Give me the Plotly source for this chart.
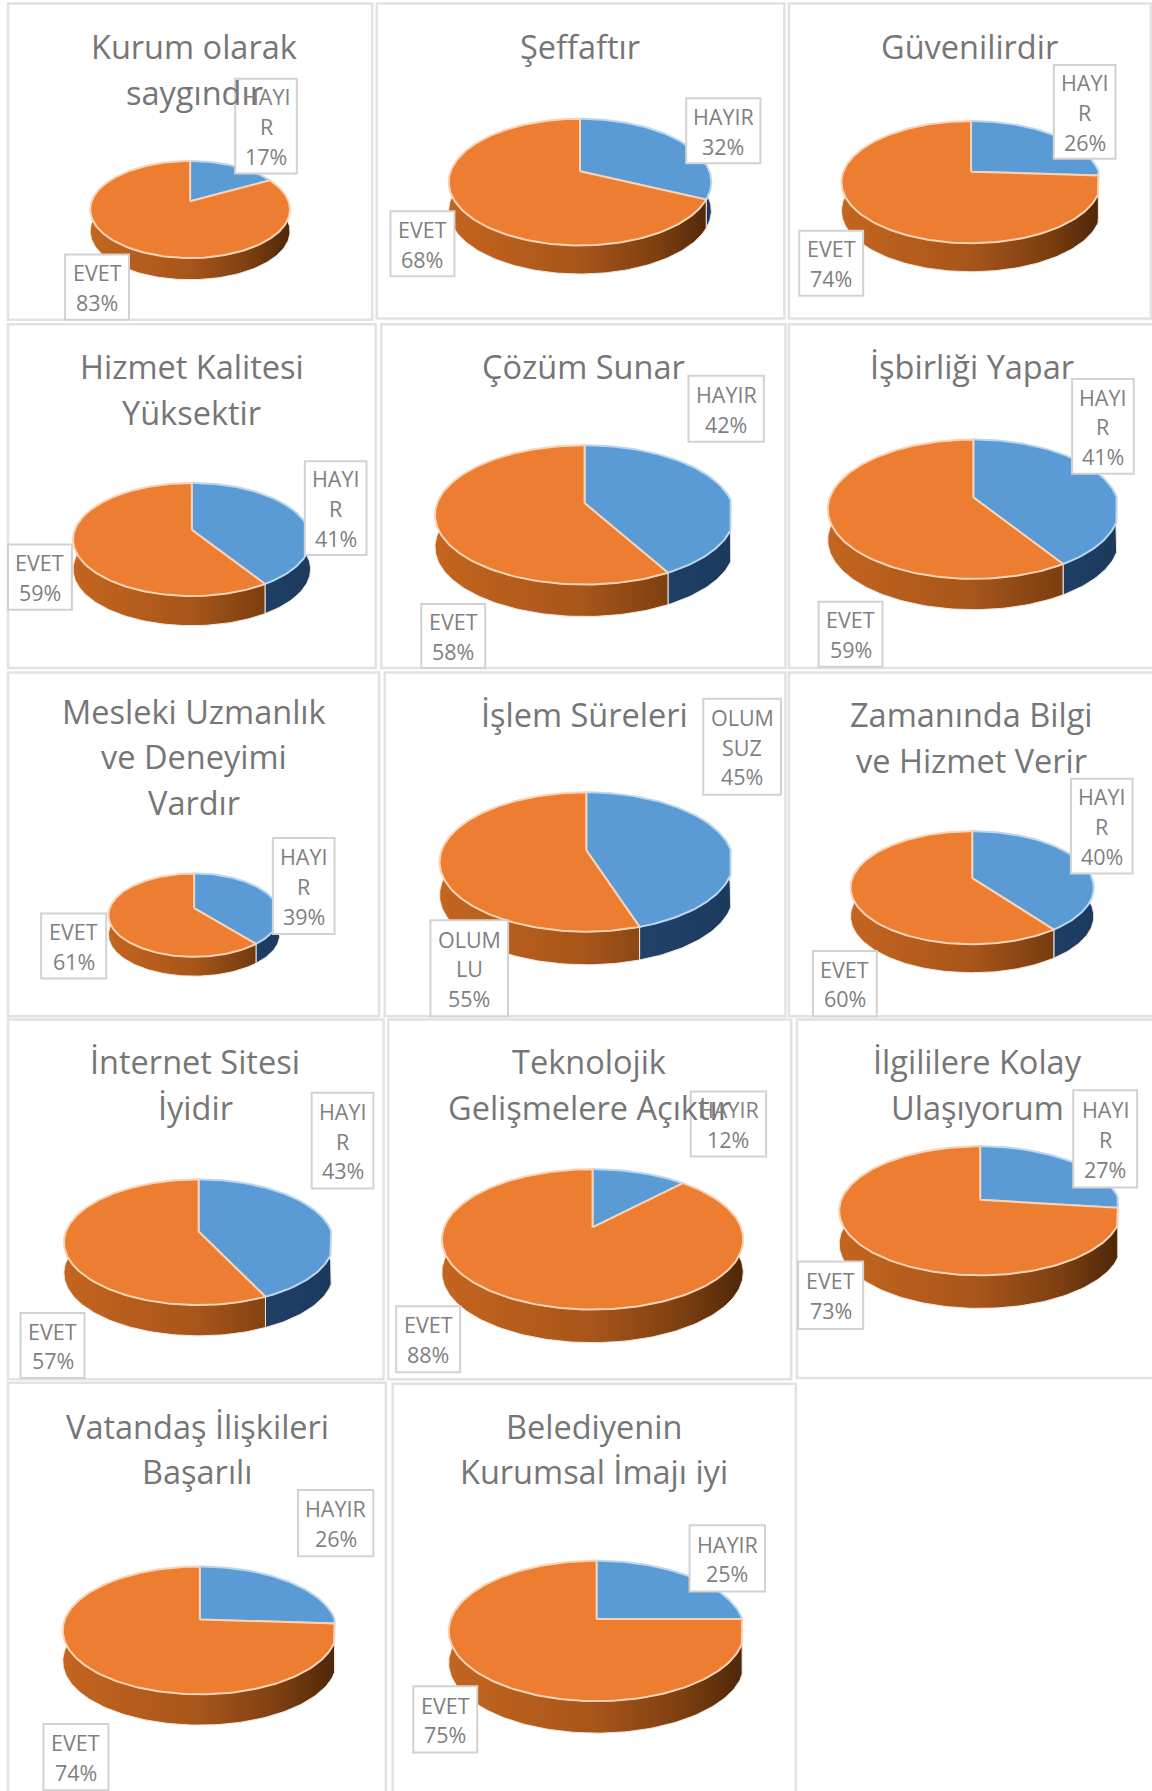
import numpy as np
import plotly.graph_objects as go

# ---------- chart content ----------
titles = [
    ["Kurum olarak", "saygındır"], ["Şeffaftır"], ["Güvenilirdir"],
    ["Hizmet Kalitesi", "Yüksektir"], ["Çözüm Sunar"], ["İşbirliği Yapar"],
    ["Mesleki Uzmanlık", "ve Deneyimi", "Vardır"], ["İşlem Süreleri"], ["Zamanında Bilgi", "ve Hizmet Verir"],
    ["İnternet Sitesi", "İyidir"], ["Teknolojik", "Gelişmelere Açıktır"], ["İlgililere Kolay", "Ulaşıyorum"],
    ["Vatandaş İlişkileri", "Başarılı"], ["Belediyenin", "Kurumsal İmajı iyi"],
]
no_values = [17, 32, 26, 41, 42, 41, 39, 45, 40, 43, 12, 27, 26, 25]
yes_values = [83, 68, 74, 59, 58, 59, 61, 55, 60, 57, 88, 73, 74, 75]
no_labels = [["HAYI", "R"], ["HAYIR"], ["HAYI", "R"], ["HAYI", "R"], ["HAYIR"], ["HAYI", "R"],
             ["HAYI", "R"], ["OLUM", "SUZ"], ["HAYI", "R"], ["HAYI", "R"], ["HAYIR"], ["HAYI", "R"],
             ["HAYIR"], ["HAYIR"]]
yes_labels = [["EVET"]] * 7 + [["OLUM", "LU"]] + [["EVET"]] * 6

# ---------- layout (measured on a 1009 px wide copy, scaled below) ----------
S = 1152 / 1009
panels = [(7,3,326,280),(330,3,687,279),(691,3,1008,279),
          (7,284,329,585),(334,284,688,585),(691,284,1012,585),
          (7,589,332,890),(337,589,688,890),(691,589,1012,890),
          (7,893,336,1208),(340,893,693,1208),(698,893,1012,1207),
          (7,1211,338,1572),(344,1212,697,1572)]
# x-left, x-right, y-top, y-bottom of the top face, side depth, right clip
pies = [(79,254,141,226,19,None),(393,623,104,215,25,None),(737,964,106,213,25,962),
        (64,272,423,522,26,None),(381,643,390,512,28,640),(725,980,385,507,27,978),
        (95,245,765,838,17,None),(385,642,694,816,29,640),(745,958,728,827,25,None),
        (56,292,1033,1143,27,290),(387,651,1024,1147,29,None),(735,982,1004,1117,29,979),
        (55,295,1372,1484,27,293),(393,652,1367,1490,28,650)]
no_boxes = [(206,69,260,152),(601,86,666,143),(923,57,977,139),(267,404,321,486),(603,329,669,387),
            (939,332,993,415),(239,734,293,818),(616,612,684,696),(938,682,992,765),(273,957,327,1041),
            (605,956,671,1013),(940,955,996,1040),(261,1305,327,1363),(604,1336,670,1394)]
yes_boxes = [(57,223,113,280),(342,185,398,242),(700,202,756,259),(7,477,63,534),(369,529,425,585),
             (717,527,773,584),(36,800,93,857),(377,806,445,890),(712,833,768,890),(18,1150,74,1207),
             (347,1144,403,1202),(699,1105,756,1164),(38,1510,95,1568),(362,1477,418,1535)]
title_pos = [(170,41),(508,41),(849,41),(168,321),(511,321),(851,321),(170,623),(512,626),(851,626),
             (171,930),(516,930),(856,930),(173,1249),(520,1249)]

TITLE_SIZE, LABEL_SIZE = 32.5, 21.5
TITLE_STEP, LABEL_STEP = 40 * S, 26 * S
K = 0.17  # perspective of the tilted disc

BLUE, ORANGE = "#5B9BD5", "#ED7D31"
ORANGE_WALL = [[0, "#C4651F"], [0.5, "#A7551A"], [0.8, "#7C3F10"], [1, "#4E2709"]]
BLUE_WALL = [[0, "#2A5180"], [1, "#1C3A5E"]]


def project(theta, pie):
    x0, x1, ytop, ybot, _, _ = [v if v is None else v * S for v in pie]
    rx, ry = (x1 - x0) / 2, (ybot - ytop) / 2
    cx, cy = (x0 + x1) / 2, (ytop + ybot) / 2
    u, v = np.sin(theta), np.cos(theta)
    w = 1 + K * v
    return (cx + rx * np.sqrt(1 - K * K) * u / w,
            cy - K * ry - ry * (1 - K * K) * v / w)


fig = go.Figure()
for i, pie in enumerate(pies):
    clip = pie[5] * S if pie[5] else 1e9
    depth = pie[4] * S
    total = no_values[i] + yes_values[i]
    split = 2 * np.pi * no_values[i] / total
    spans = [(0.0, split, BLUE, BLUE_WALL, "#BBD6EE", "HAYIR", no_values[i]),
             (split, 2 * np.pi, ORANGE, ORANGE_WALL, "#F9D3B5", "EVET", yes_values[i])]
    x0s, x1s = pie[0] * S, pie[1] * S
    # slices meet at the centre of the disc, which perspective moves above the ellipse centre
    apex_x, apex_y = project(np.array([0.0]), pie)[0][0], (pie[2] + pie[3]) / 2 * S - K * (pie[3] - pie[2]) / 2 * S
    for a, b, col, wall, edge, name, val in spans:
        th = np.linspace(a, b, max(int((b - a) * 40), 8))
        ax, ay = project(th, pie)
        ax = np.minimum(ax, clip)
        wx = np.concatenate([ax, ax[::-1], ax[:1]])
        wy = np.concatenate([ay, ay[::-1] + depth, ay[:1]])
        fig.add_trace(go.Scatter(x=wx, y=wy, mode="lines", fill="toself",
                                 line=dict(color="#EFE6DE", width=1),
                                 fillgradient=dict(type="horizontal", colorscale=wall,
                                                   start=x0s, stop=min(x1s, clip)),
                                 hoverinfo="skip", showlegend=False))
    for a, b, col, wall, edge, name, val in spans:
        th = np.linspace(a, b, max(int((b - a) * 40), 8))
        ax, ay = project(th, pie)
        ax = np.minimum(ax, clip)
        fig.add_trace(go.Scatter(x=np.r_[apex_x, ax, apex_x], y=np.r_[apex_y, ay, apex_y],
                                 mode="lines", fill="toself", fillcolor=col,
                                 line=dict(color=edge, width=2), name=name,
                                 text=f"{name} {val}%", hoverinfo="text", showlegend=False))

shapes = []
for x0, y0, x1, y1 in panels:
    shapes.append(dict(type="rect", x0=x0*S, y0=y0*S, x1=x1*S, y1=y1*S, layer="below",
                       line=dict(color="#E2E2E2", width=2.5), fillcolor="white"))
for x0, y0, x1, y1 in no_boxes + yes_boxes:
    shapes.append(dict(type="rect", x0=x0*S, y0=y0*S, x1=x1*S, y1=y1*S, layer="above",
                       line=dict(color="#D2D2D2", width=2), fillcolor="white"))

ann = []
def text(x, y, s, size, color):
    ann.append(dict(x=x, y=y, text=s, showarrow=False, xanchor="center", yanchor="middle",
                    font=dict(family="Open Sans", size=size, color=color)))

for i, lines in enumerate(titles):
    tx, ty = title_pos[i]
    for j, line in enumerate(lines):
        text(tx * S, ty * S + j * TITLE_STEP, line, TITLE_SIZE, "#767676")
for boxes, labels, vals in ((no_boxes, no_labels, no_values), (yes_boxes, yes_labels, yes_values)):
    for i, (x0, y0, x1, y1) in enumerate(boxes):
        rows = list(labels[i]) + [f"{vals[i]}%"]
        mid = (y0 + y1) / 2 * S + 0.5
        for j, row in enumerate(rows):
            text((x0 + x1) / 2 * S, mid + (j - (len(rows) - 1) / 2) * LABEL_STEP, row, LABEL_SIZE, "#7F7F7F")

fig.update_layout(width=1152, height=1791, margin=dict(l=0, r=0, t=0, b=0),
                  paper_bgcolor="white", plot_bgcolor="white", showlegend=False,
                  shapes=shapes, annotations=ann,
                  xaxis=dict(range=[0, 1152], visible=False, fixedrange=True),
                  yaxis=dict(range=[1791, 0], visible=False, fixedrange=True))
fig.write_html("out.html", config={"displayModeBar": False},
               post_script="document.body.style.margin='0';document.documentElement.style.overflow='hidden';")
